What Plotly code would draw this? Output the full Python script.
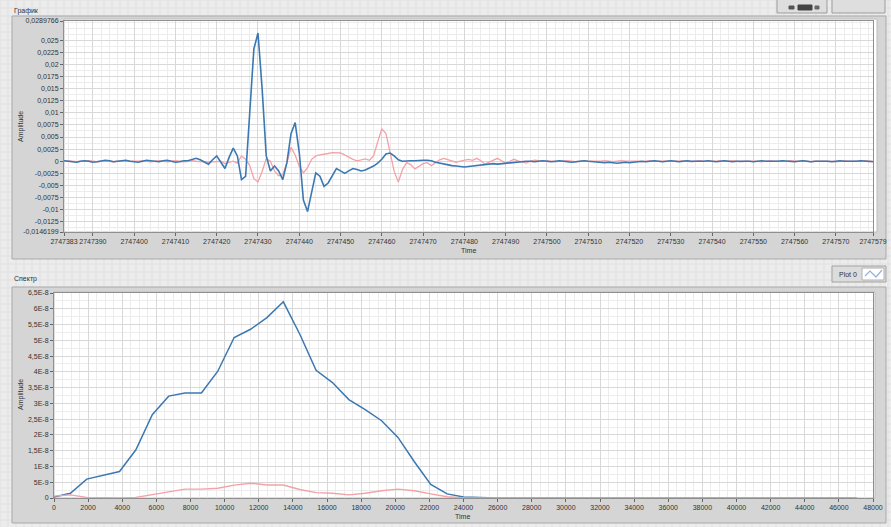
import plotly.graph_objects as go

# ---------------- data ----------------
t_start = 2747383
time_ticks = [2747383, 2747390, 2747400, 2747410, 2747420, 2747430, 2747440, 2747450,
              2747460, 2747470, 2747480, 2747490, 2747500, 2747510, 2747520, 2747530,
              2747540, 2747550, 2747560, 2747570, 2747579]

signal_blue = [
    0.0001, 0.0000, -0.0001, -0.0002, 0.0000, 0.0001, 0.0000, -0.0002, -0.0001, 0.0000,
    0.0002, 0.0001, -0.0001, 0.0000, 0.0001, 0.0002, 0.0000, -0.0001, -0.0002, 0.0000,
    0.0002, 0.0001, 0.0000, -0.0001, 0.0001, 0.0002, 0.0000, -0.0002, -0.0001, 0.0001,
    0.0001, 0.0003, 0.0006, 0.0003, -0.0002, -0.0006, 0.0003, 0.0011, -0.0002, -0.0015,
    0.0008, 0.0027, 0.0011, -0.0038, -0.0031, 0.0090, 0.0232, 0.0265, 0.0150, 0.0011,
    -0.0020, -0.0010, -0.0020, -0.0038, -0.0003, 0.0057, 0.0080, 0.0018, -0.0080, -0.0104,
    -0.0062, -0.0024, -0.0031, -0.0052, -0.0045, -0.0030, -0.0015, -0.0020, -0.0025, -0.0020,
    -0.0015, -0.0017, -0.0020, -0.0018, -0.0014, -0.0010, -0.0004, 0.0004, 0.0015, 0.0017,
    0.0011, 0.0003, 0.0000, 0.0001, 0.0001, 0.0001, 0.0002, 0.0002, 0.0002, 0.0001,
    -0.0002, -0.0004, -0.0006, -0.0008, -0.0009, -0.0010, -0.0011, -0.0012, -0.0011, -0.0010,
    -0.0008, -0.0007, -0.0006, -0.0005, -0.0005, -0.0006, -0.0005, -0.0004, -0.0003, -0.0002,
    -0.0001, -0.0001, 0.0000, 0.0000, -0.0001, 0.0000, 0.0001, 0.0000, -0.0001, 0.0000,
    0.0001, 0.0000, -0.0001, -0.0002, -0.0001, 0.0000, 0.0001, 0.0000, -0.0001, -0.0002,
    -0.0002, -0.0003, -0.0002, -0.0003, -0.0004, -0.0003, -0.0002, -0.0003, -0.0002, -0.0001,
    0.0000, -0.0001, 0.0000, 0.0001, 0.0000, -0.0001, 0.0000, 0.0001, 0.0000, -0.0001,
    0.0000, 0.0001, 0.0000, 0.0000, -0.0001, 0.0000, 0.0001, 0.0000, -0.0001, 0.0000,
    0.0001, 0.0000, -0.0001, 0.0000, 0.0000, 0.0001, 0.0000, -0.0001, 0.0000, 0.0001,
    0.0000, 0.0000, -0.0001, 0.0000, 0.0001, 0.0000, 0.0000, -0.0001, 0.0000, 0.0001,
    0.0000, -0.0001, 0.0000, 0.0000, 0.0001, 0.0000, -0.0001, 0.0000, 0.0001, 0.0000,
    0.0000, -0.0001, 0.0000, 0.0001, 0.0000, 0.0000, -0.0001,
]

signal_red = [
    0.0000, 0.0001, 0.0000, -0.0001, 0.0000, 0.0001, 0.0001, 0.0000, -0.0001, 0.0000,
    0.0001, 0.0000, -0.0001, 0.0000, 0.0001, 0.0000, 0.0000, -0.0001, 0.0000, 0.0001,
    0.0000, -0.0001, 0.0000, 0.0001, 0.0000, -0.0001, 0.0000, 0.0001, 0.0000, -0.0001,
    0.0000, 0.0001, 0.0000, 0.0000, -0.0001, -0.0002, -0.0001, 0.0000, 0.0000, -0.0005,
    -0.0002, 0.0000, -0.0004, 0.0011, 0.0004, -0.0009, -0.0036, -0.0043, -0.0021, 0.0005,
    0.0000, -0.0020, -0.0030, -0.0028, -0.0003, 0.0029, 0.0013, -0.0011, -0.0024, -0.0013,
    0.0004, 0.0011, 0.0013, 0.0014, 0.0016, 0.0018, 0.0018, 0.0017, 0.0013, 0.0008,
    0.0004, 0.0001, 0.0003, 0.0005, 0.0002, 0.0011, 0.0040, 0.0067, 0.0057, 0.0018,
    -0.0021, -0.0043, -0.0017, -0.0003, -0.0007, -0.0016, -0.0010, -0.0005, -0.0003, -0.0009,
    -0.0003, 0.0003, 0.0006, 0.0003, 0.0000, -0.0002, 0.0000, 0.0002, 0.0004, 0.0002,
    0.0006, 0.0001, -0.0006, -0.0002, 0.0002, 0.0006, 0.0001, -0.0004, 0.0000, 0.0004,
    0.0001, -0.0002, -0.0004, 0.0000, 0.0002, 0.0001, 0.0000, 0.0001, 0.0000, -0.0001,
    0.0000, 0.0001, 0.0001, 0.0000, -0.0001, 0.0000, 0.0001, 0.0000, 0.0000, -0.0001,
    0.0000, 0.0001, 0.0000, -0.0001, 0.0000, 0.0001, 0.0000, 0.0000, 0.0001, 0.0000,
    -0.0001, 0.0000, 0.0001, 0.0000, 0.0000, -0.0001, 0.0000, 0.0001, 0.0000, 0.0000,
    0.0001, 0.0000, -0.0001, 0.0000, 0.0001, 0.0000, 0.0000, -0.0001, 0.0000, 0.0001,
    0.0000, 0.0000, 0.0001, 0.0000, -0.0001, 0.0000, 0.0000, 0.0001, 0.0000, -0.0001,
    0.0000, 0.0001, 0.0000, 0.0000, -0.0001, 0.0000, 0.0001, 0.0000, 0.0000, 0.0001,
    0.0000, -0.0001, 0.0000, 0.0000, 0.0001, 0.0000, 0.0000, -0.0001, 0.0000, 0.0001,
    0.0000, 0.0000, -0.0001, 0.0000, 0.0001, 0.0000, 0.0000,
]

amp_ticks = [0.0289766, 0.025, 0.0225, 0.02, 0.0175, 0.015, 0.0125, 0.01, 0.0075, 0.005,
             0.0025, 0, -0.0025, -0.005, -0.0075, -0.01, -0.0125, -0.0146199]
amp_labels = ["0,0289766", "0,025", "0,0225", "0,02", "0,0175", "0,015", "0,0125", "0,01",
              "0,0075", "0,005", "0,0025", "0", "-0,0025", "-0,005", "-0,0075", "-0,01",
              "-0,0125", "-0,0146199"]

freq_step = 960
freq_ticks = [0, 2000, 4000, 6000, 8000, 10000, 12000, 14000, 16000, 18000, 20000, 22000,
              24000, 26000, 28000, 30000, 32000, 34000, 36000, 38000, 40000, 42000, 44000,
              46000, 48000]
spec_blue = [
    0.3e-9, 1.5e-9, 6.0e-9, 7.3e-9, 8.4e-9, 1.53e-8, 2.64e-8, 3.23e-8, 3.33e-8, 3.33e-8,
    4.02e-8, 5.09e-8, 5.35e-8, 5.72e-8, 6.22e-8, 5.2e-8, 4.05e-8, 3.66e-8, 3.12e-8, 2.8e-8,
    2.45e-8, 1.92e-8, 1.15e-8, 4.3e-9, 1.3e-9, 0.3e-9, 0.05e-9, 0, 0, 0,
    0, 0, 0, 0, 0, 0, 0, 0, 0, 0,
    0, 0, 0, 0, 0, 0, 0, 0, 0, 0,
]
spec_red = [
    0.6e-9, 1.0e-9, 0.2e-9, 0.0, 0.0, 0.2e-9, 1.0e-9, 2.0e-9, 2.8e-9, 2.8e-9,
    3.1e-9, 4.1e-9, 4.7e-9, 4.1e-9, 4.1e-9, 2.7e-9, 1.7e-9, 1.5e-9, 1.0e-9, 1.5e-9,
    2.3e-9, 2.8e-9, 2.3e-9, 1.3e-9, 0.4e-9, 0, 0, 0, 0, 0,
    0, 0, 0, 0, 0, 0, 0, 0, 0, 0,
    0, 0, 0, 0, 0, 0, 0, 0, 0, 0,
]
spec_ticks = [0, 0.5e-8, 1e-8, 1.5e-8, 2e-8, 2.5e-8, 3e-8, 3.5e-8, 4e-8, 4.5e-8,
              5e-8, 5.5e-8, 6e-8, 6.5e-8]
spec_labels = ["0", "5E-9", "1E-8", "1,5E-8", "2E-8", "2,5E-8", "3E-8", "3,5E-8", "4E-8",
               "4,5E-8", "5E-8", "5,5E-8", "6E-8", "6,5E-8"]

time_vals = [t_start + i for i in range(len(signal_blue))]
freq_vals = [freq_step * i for i in range(len(spec_blue))]

# ---------------- layout helpers ----------------
W, H = 891, 527
def px(x): return x / W
def py(y): return 1 - y / H

FONT = "Liberation Sans"
BLUE = "#3b78b2"
PINK = "#f3a2a8"
TXT = "#333333"

fig = go.Figure()
fig.add_trace(go.Scatter(x=time_vals, y=signal_red, mode="lines",
                         line=dict(color=PINK, width=1.3), xaxis="x", yaxis="y",
                         showlegend=False, hoverinfo="skip"))
fig.add_trace(go.Scatter(x=time_vals, y=signal_blue, mode="lines",
                         line=dict(color=BLUE, width=1.6), xaxis="x", yaxis="y",
                         showlegend=False, hoverinfo="skip"))
fig.add_trace(go.Scatter(x=freq_vals, y=spec_blue, mode="lines",
                         line=dict(color=BLUE, width=1.5), xaxis="x2", yaxis="y2",
                         showlegend=False, hoverinfo="skip"))
fig.add_trace(go.Scatter(x=freq_vals, y=spec_red, mode="lines",
                         line=dict(color=PINK, width=1.4), xaxis="x2", yaxis="y2",
                         showlegend=False, hoverinfo="skip"))

tickfont = dict(family=FONT, size=7, color=TXT)
common = dict(showline=True, linecolor="#8f8f8f", linewidth=1, mirror=True,
              ticks="outside", ticklen=3, tickcolor="#666666", tickfont=tickfont,
              gridcolor="#d8d8d8", gridwidth=1, zeroline=False, showgrid=True,
              fixedrange=True, tickangle=0, automargin=False)

top_x0, top_x1, top_y0, top_y1 = 64, 873, 21, 232
bot_x0, bot_x1, bot_y0, bot_y1 = 54, 873, 293, 498

fig.update_layout(
    width=W, height=H, margin=dict(l=0, r=0, t=0, b=0, autoexpand=False),
    paper_bgcolor="#ececec", plot_bgcolor="rgba(0,0,0,0)",
    xaxis=dict(domain=[px(top_x0), px(top_x1)], range=[2747383, 2747579], anchor="y",
               tickmode="array", tickvals=time_ticks, ticktext=[str(v) for v in time_ticks],
               minor=dict(tick0=2747380, dtick=2, showgrid=True, gridcolor="#ececec"),
               **common),
    yaxis=dict(domain=[py(top_y1), py(top_y0)], range=[-0.0146199, 0.0289766], anchor="x",
               tickmode="array", tickvals=amp_ticks, ticktext=amp_labels,
               minor=dict(tick0=0, dtick=0.00125, showgrid=True, gridcolor="#ececec"),
               **common),
    xaxis2=dict(domain=[px(bot_x0), px(bot_x1)], range=[0, 48000], anchor="y2",
                tickmode="array", tickvals=freq_ticks, ticktext=[str(v) for v in freq_ticks],
                minor=dict(tick0=0, dtick=500, showgrid=True, gridcolor="#ececec"),
                **common),
    yaxis2=dict(domain=[py(bot_y1), py(bot_y0)], range=[0, 6.5e-8], anchor="x2",
                tickmode="array", tickvals=spec_ticks, ticktext=spec_labels,
                minor=dict(tick0=0, dtick=0.25e-8, showgrid=True, gridcolor="#ececec"),
                **common),
)

shapes = []
# faint front-panel grid
step = 8
segs = []
for gx in range(0, W + 1, step):
    segs.append(f"M{px(gx):.5f},{py(0):.5f}L{px(gx):.5f},{py(H):.5f}")
for gy in range(0, H + 1, step):
    segs.append(f"M{px(0):.5f},{py(gy):.5f}L{px(W):.5f},{py(gy):.5f}")
shapes.append(dict(type="path", xref="paper", yref="paper", path="".join(segs),
                   line=dict(color="#e0e0e0", width=1), layer="below"))

def rect(x0, y0, x1, y1, fill, line, width=1, layer="below"):
    return dict(type="rect", xref="paper", yref="paper",
                x0=px(x0), x1=px(x1), y0=py(y1), y1=py(y0),
                fillcolor=fill, line=dict(color=line, width=width), layer=layer)

# graph frames
shapes.append(rect(12, 16, 886, 259, "#d5d5d5", "#a9a9a9"))
shapes.append(rect(top_x0, top_y0 - 2, top_x1 + 4, top_y1, "#ffffff", "#bdbdbd"))
shapes.append(rect(12, 287, 886, 523, "#d5d5d5", "#a9a9a9"))
shapes.append(rect(bot_x0, bot_y0 - 1, bot_x1 + 2, bot_y1, "#ffffff", "#bdbdbd"))
# top-right palette buttons
shapes.append(rect(777, -3, 827, 13, "#dedede", "#9c9c9c"))
shapes.append(rect(832, -3, 885, 13, "#dedede", "#9c9c9c"))
shapes.append(rect(789, 6, 794, 9, "#555555", "#555555", layer="above"))
shapes.append(rect(798, 5, 812, 10, "#444444", "#444444", layer="above"))
shapes.append(rect(815, 6, 819, 9, "#666666", "#666666", layer="above"))
# plot legend
shapes.append(rect(832, 266, 886, 282, "#dcdcdc", "#a2a2a2", layer="above"))
shapes.append(rect(862, 268, 884, 280, "#ffffff", "#b0b0b0", layer="above"))
shapes.append(dict(type="path", xref="paper", yref="paper",
                   path=f"M{px(865)},{py(276)}L{px(870)},{py(271)}L{px(876)},{py(277)}L{px(882)},{py(270)}",
                   line=dict(color="#8fb3d9", width=1.2), layer="above"))

fig.update_layout(shapes=shapes)

def ann(x, y, text, size=7, angle=0, xanchor="center"):
    return dict(x=px(x), y=py(y), xref="paper", yref="paper", text=text, showarrow=False,
                textangle=angle, xanchor=xanchor, yanchor="middle",
                font=dict(family=FONT, size=size, color=TXT))

fig.update_layout(annotations=[
    ann(12, 11, "График", xanchor="left"),
    ann(12, 279, "Спектр", xanchor="left"),
    ann(21, 127, "Amplitude", angle=-90),
    ann(21, 395, "Amplitude", angle=-90),
    ann(468, 250, "Time"),
    ann(463, 516, "Time"),
    ann(848, 274, "Plot 0"),
])

fig.write_html("out.html")
